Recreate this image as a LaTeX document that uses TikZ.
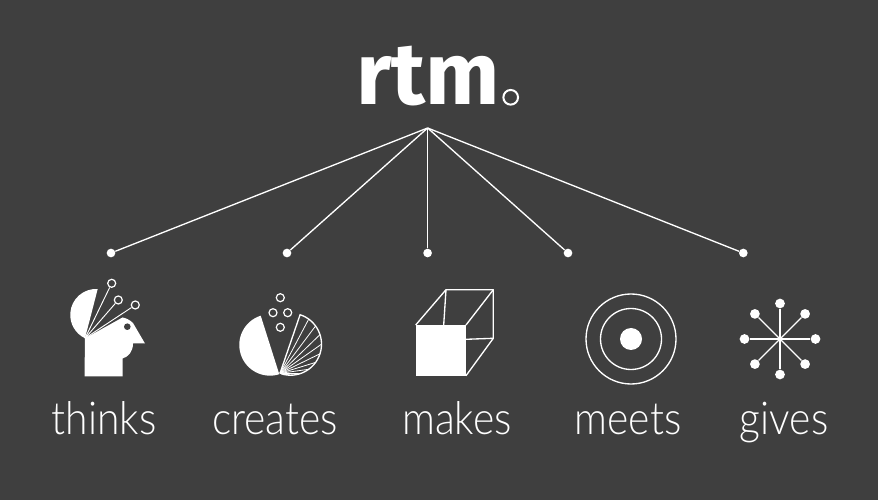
\documentclass[tikz,border=0pt]{standalone}
\usepackage{fontspec}
\usepackage{xcolor}
\usetikzlibrary{calc}
\newfontfamily\labelfont[FakeStretch=0.9]{Lato Light}
\newfontfamily\titlefont{Fira Sans Bold}
\definecolor{slate}{HTML}{3F3F3F}
\tikzset{
  spoke/.style={draw=white,line width=1pt},
  hairline/.style={draw=white,line width=0.7pt},
  dot/.style={circle,fill=white,inner sep=0pt,minimum size=#1},
  ring/.style={circle,draw=white,line width=0.9pt,inner sep=0pt,minimum size=6pt},
  caption/.style={anchor=base,text=white,font=\labelfont\fontsize{34}{34}\selectfont},
}
\begin{document}
\begin{tikzpicture}[x=0.75pt,y=0.75pt]
  \useasboundingbox (0,0) rectangle (878,500);
  \fill[slate] (0,0) rectangle (878,500);

  % title
  \node[anchor=base,text=white,font=\titlefont\fontsize{66}{66}\selectfont] (title) at (428,395) {rtm};
  \node[circle,draw=white,line width=1.5pt,inner sep=0pt,minimum size=11pt] (titlering) at (510.7,402.7) {};

  % tree
  \coordinate (apex) at (427.6,372);
  \node[dot=6.5pt] (dotthinks) at (111,247) {};
  \node[dot=6.5pt] (dotcreates) at (287,247) {};
  \node[dot=6.5pt] (dotmakes) at (427.6,247) {};
  \node[dot=6.5pt] (dotmeets) at (568,247) {};
  \node[dot=6.5pt] (dotgives) at (743.3,247) {};
  \foreach \leaf in {dotthinks,dotcreates,dotmakes,dotmeets,dotgives}
    \draw[spoke] (apex) -- (\leaf);

  % thinks
  \coordinate (pivot) at (85,161.7);
  \fill[white] (97.7,211) arc (86.5:244.6:25.9) -- cycle;
  \fill[white] (pivot) -- (122.5,182.5) .. controls (126,182) and (130,180) .. (133,177)
    -- (145,156.5) -- (133,156.5) .. controls (133,148) and (128,143) .. (122.5,141.5)
    -- (122.5,123.5) -- (84.5,123.5) -- cycle;
  \fill[slate] (127.3,173.3) circle (3.3);
  \node[ring] (wirea) at (111.7,216.7) {};
  \node[ring] (wireb) at (118.3,200) {};
  \node[ring] (wirec) at (135.3,195) {};
  \foreach \wire in {wirea,wireb,wirec}
    \draw[hairline] (pivot) -- (\wire);
  \node[caption] (thinks) at (104,65) {thinks};

  % creates
  \fill[white] (260.7,184.3) arc (107.6:287.6:30.7) -- cycle;
  \node[ring] (bubblea) at (280.3,202.3) {};
  \node[ring] (bubbleb) at (273,187.3) {};
  \node[ring] (bubblec) at (287.7,187.3) {};
  \node[ring] (bubbled) at (280.3,172.7) {};
  \coordinate (fan) at (280,126.7);
  \coordinate (fanc) at (290.5,155.8);
  \draw[spoke] (fan) -- ($(fanc)+(72:31)$) arc (72:-108:31);
  \foreach \a in {54,36,...,-90}
    \draw[white,line width=0.6pt] (fan) -- ($(fanc)+(\a:31)$);
  \node[caption] (creates) at (275,65) {creates};

  % makes
  \fill[white] (415.7,124.3) rectangle (466,175);
  \draw[spoke,line join=round] (415.7,175) -- (446,210.3) -- (493.3,210.3) -- (493.3,161.7) -- (466,124.3);
  \draw[spoke] (466,175) -- (493.3,210.3);
  \draw[spoke] (446,210.3) -- (443.7,175);
  \draw[spoke] (466,160.7) -- (493.3,161.7);
  \node[caption] (makes) at (457,65) {makes};

  % meets
  \coordinate (target) at (631,161);
  \draw[spoke] (target) circle (45);
  \draw[spoke] (target) circle (30.5);
  \fill[white] (target) circle (11);
  \node[caption] (meets) at (628,65) {meets};

  % gives
  \coordinate (hub) at (780,161);
  \foreach \a in {0,45,...,315} {
    \node[dot=7.3pt] (ray\a) at ($(hub)+(\a:35.5)$) {};
    \draw[spoke] (hub) -- (ray\a);
  }
  \node[caption] (gives) at (784,65) {gives};
\end{tikzpicture}
\end{document}
